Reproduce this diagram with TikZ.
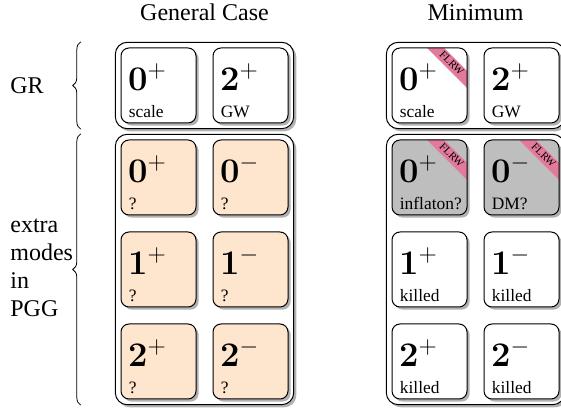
\documentclass[tikz,border=0pt]{standalone}
\usepackage[no-math]{fontspec}
\setmainfont{Liberation Serif}
\usepackage{tikz}
\usetikzlibrary{fit}
\usetikzlibrary{shadows}
\usetikzlibrary{backgrounds}
\usetikzlibrary{decorations.pathreplacing}
\usetikzlibrary{positioning}
\usepackage{color}
\definecolor{Case-1}{RGB}{253,229,206}
\definecolor{Min-1}{RGB}{190,190,190}
\definecolor{Ribbon-1}{RGB}{226,122,155}
\definecolor{Shadow-1}{RGB}{100,100,100}

\begin{document}
\begin{tikzpicture}
    \tikzset{ mde/.style ={draw=black, line width=0.5pt, fill=white, rounded corners=4pt, minimum width=37.5pt, minimum height=37.5pt, inner sep=0pt, drop shadow={shadow xshift=1.3pt, shadow yshift=-1.3pt, opacity=0.5, fill=Shadow-1}} }
    \tikzset{ gen/.style ={mde, fill=Case-1} }
    \tikzset{ dm/.style  ={mde, fill=Min-1} }
    \tikzset{ flrw/.style={path picture={
        \fill[Ribbon-1, sharp corners] ([xshift=-20pt]path picture bounding box.north east) -- ([xshift=-11.5pt]path picture bounding box.north east)
                     -- ([yshift=-11.5pt]path picture bounding box.north east) -- ([yshift=-20pt]path picture bounding box.north east) -- cycle;}} }
    \tikzset{ flt/.style ={rotate=-45, inner sep=0pt, font=\fontsize{5.4}{6}\selectfont} }
    \tikzset{ grp/.style ={draw=black, line width=0.5pt, fill=white, rounded corners=6pt, inner sep=2.6pt, drop shadow={shadow xshift=1.3pt, shadow yshift=-1.3pt, opacity=0.5, fill=Shadow-1}} }
    \tikzset{ brc/.style ={decorate, decoration={brace, amplitude=4pt}, line width=0.4pt} }
    \tikzset{ dig/.style ={anchor=base west, inner sep=0pt, font=\LARGE} }
    \tikzset{ lbl/.style ={anchor=base west, inner sep=0pt, font=\fontsize{8.7}{10}\selectfont} }
    \tikzset{ ttl/.style ={inner sep=0pt, font=\fontsize{12}{14}\selectfont} }

    \useasboundingbox (0,0) rectangle (280.5pt,205pt);

    % general case
    \node[mde                         ] (g1) at (79.25pt,162.25pt) {};
    \node[mde, right=8pt of g1        ] (g2) {};
    \node[gen, below=8pt of g1        ] (g3) {};
    \node[gen, right=8pt of g3        ] (g4) {};
    \node[gen, below=8pt of g3        ] (g5) {};
    \node[gen, right=8pt of g5        ] (g6) {};
    \node[gen, below=8pt of g5        ] (g7) {};
    \node[gen, right=8pt of g7        ] (g8) {};
    % minimum
    \node[mde, flrw, right=51.5pt of g2] (m1) {};
    \node[mde, right=8pt of m1        ] (m2) {};
    \node[dm,  flrw, below=8pt of m1  ] (m3) {};
    \node[dm,  flrw, right=8pt of m3  ] (m4) {};
    \node[mde, below=8pt of m3        ] (m5) {};
    \node[mde, right=8pt of m5        ] (m6) {};
    \node[mde, below=8pt of m5        ] (m7) {};
    \node[mde, right=8pt of m7        ] (m8) {};

    \node[dig] (g1_d) at ([xshift=3.6pt, yshift=-21.5pt]g1.north west) {$\mathbf{0}^{+}$};
    \node[lbl] (g1_l) at ([xshift=4pt,   yshift=2.8pt]g1.south west)   {scale};
    \node[dig] (g2_d) at ([xshift=3.6pt, yshift=-21.5pt]g2.north west) {$\mathbf{2}^{+}$};
    \node[lbl] (g2_l) at ([xshift=4pt,   yshift=2.8pt]g2.south west)   {GW};
    \node[dig] (g3_d) at ([xshift=3.6pt, yshift=-21.5pt]g3.north west) {$\mathbf{0}^{+}$};
    \node[lbl] (g3_l) at ([xshift=4pt,   yshift=2.8pt]g3.south west)   {?};
    \node[dig] (g4_d) at ([xshift=3.6pt, yshift=-21.5pt]g4.north west) {$\mathbf{0}^{-}$};
    \node[lbl] (g4_l) at ([xshift=4pt,   yshift=2.8pt]g4.south west)   {?};
    \node[dig] (g5_d) at ([xshift=3.6pt, yshift=-21.5pt]g5.north west) {$\mathbf{1}^{+}$};
    \node[lbl] (g5_l) at ([xshift=4pt,   yshift=2.8pt]g5.south west)   {?};
    \node[dig] (g6_d) at ([xshift=3.6pt, yshift=-21.5pt]g6.north west) {$\mathbf{1}^{-}$};
    \node[lbl] (g6_l) at ([xshift=4pt,   yshift=2.8pt]g6.south west)   {?};
    \node[dig] (g7_d) at ([xshift=3.6pt, yshift=-21.5pt]g7.north west) {$\mathbf{2}^{+}$};
    \node[lbl] (g7_l) at ([xshift=4pt,   yshift=2.8pt]g7.south west)   {?};
    \node[dig] (g8_d) at ([xshift=3.6pt, yshift=-21.5pt]g8.north west) {$\mathbf{2}^{-}$};
    \node[lbl] (g8_l) at ([xshift=4pt,   yshift=2.8pt]g8.south west)   {?};

    \node[dig] (m1_d) at ([xshift=3.6pt, yshift=-21.5pt]m1.north west) {$\mathbf{0}^{+}$};
    \node[lbl] (m1_l) at ([xshift=4pt,   yshift=2.8pt]m1.south west)   {scale};
    \node[dig] (m2_d) at ([xshift=3.6pt, yshift=-21.5pt]m2.north west) {$\mathbf{2}^{+}$};
    \node[lbl] (m2_l) at ([xshift=4pt,   yshift=2.8pt]m2.south west)   {GW};
    \node[dig] (m3_d) at ([xshift=3.6pt, yshift=-21.5pt]m3.north west) {$\mathbf{0}^{+}$};
    \node[lbl] (m3_l) at ([xshift=4pt,   yshift=2.8pt]m3.south west)   {inflaton?};
    \node[dig] (m4_d) at ([xshift=3.6pt, yshift=-21.5pt]m4.north west) {$\mathbf{0}^{-}$};
    \node[lbl] (m4_l) at ([xshift=4pt,   yshift=2.8pt]m4.south west)   {DM?};
    \node[dig] (m5_d) at ([xshift=3.6pt, yshift=-21.5pt]m5.north west) {$\mathbf{1}^{+}$};
    \node[lbl] (m5_l) at ([xshift=4pt,   yshift=2.8pt]m5.south west)   {killed};
    \node[dig] (m6_d) at ([xshift=3.6pt, yshift=-21.5pt]m6.north west) {$\mathbf{1}^{-}$};
    \node[lbl] (m6_l) at ([xshift=4pt,   yshift=2.8pt]m6.south west)   {killed};
    \node[dig] (m7_d) at ([xshift=3.6pt, yshift=-21.5pt]m7.north west) {$\mathbf{2}^{+}$};
    \node[lbl] (m7_l) at ([xshift=4pt,   yshift=2.8pt]m7.south west)   {killed};
    \node[dig] (m8_d) at ([xshift=3.6pt, yshift=-21.5pt]m8.north west) {$\mathbf{2}^{-}$};
    \node[lbl] (m8_l) at ([xshift=4pt,   yshift=2.8pt]m8.south west)   {killed};

    \node[flt] (m1_f) at ([xshift=-7.9pt, yshift=-7.9pt]m1.north east) {FLRW};
    \node[flt] (m3_f) at ([xshift=-7.9pt, yshift=-7.9pt]m3.north east) {FLRW};
    \node[flt] (m4_f) at ([xshift=-7.9pt, yshift=-7.9pt]m4.north east) {FLRW};

    % groups behind the boxes
    \begin{scope}[on background layer]
    \node[grp, fit=(g1) (g2)]           (ga) {};
    \node[grp, fit=(g3) (g4) (g7) (g8)] (gb) {};
    \node[grp, fit=(m1) (m2)]           (ma) {};
    \node[grp, fit=(m3) (m4) (m7) (m8)] (mb) {};
    \end{scope}

    \node[ttl, above=10.5pt of ga] (tg) {General Case};
    \node[ttl, above=10.5pt of ma] (tm) {Minimum};

    \draw[brc] ([xshift=-17pt]ga.south west) -- ([xshift=-17pt]ga.north west);
    \draw[brc] ([xshift=-17pt]gb.south west) -- ([xshift=-17pt]gb.north west);
    \node[ttl, anchor=west]              (lgr)  at (5pt,162.4pt) {GR};
    \node[ttl, anchor=west, align=left] (lpgg) at (5pt,71pt)    {extra\\modes\\in\\PGG};
\end{tikzpicture}
\end{document}
